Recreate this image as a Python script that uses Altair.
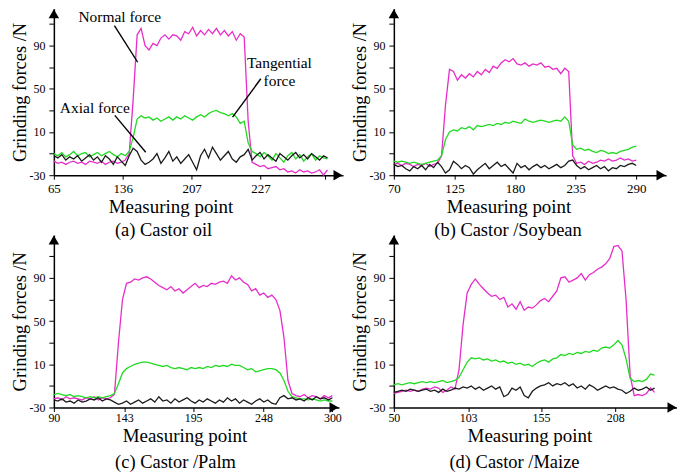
import altair as alt
import numpy as np
import pandas as pd

FONT = "Liberation Serif"
SERIES = ["Normal force", "Tangential force", "Axial force"]
COLORS = ["#E62DCB", "#22DA22", "#1C1C1C"]

Y_TICKS = [-30, -10, 10, 30, 50, 70, 90, 110]
Y_LABELS = ["-30", "", "10", "", "50", "", "90", ""]

# ---------------- (a) Castor oil ----------------
a_x_range = [65, 347]
a_xticks = [65, 136, 207, 278, 345]
a_xlabels = ["65", "136", "207", "227", ""]
a_normal = [-17, -19, -18, -20, -18, -17, -19, -18, -20, -17, -18, -19, -17, -20, -18, -17, -19, -18, -16,
            -10, 40, 100, 106, 90, 86, 92, 90, 97, 100, 96, 100, 99, 95, 103, 101, 107, 99, 104, 100, 105,
            101, 106, 100, 104, 99, 103, 95, 101, 98, 20, -18,
            -20, -22, -21, -24, -23, -22, -25, -24, -27, -26, -28, -25, -27, -26, -28, -27, -25, -30, -25]
a_tangential = [-10, -12, -9, -13, -11, -8, -12, -10, -9, -13, -11, -9, -12, -10, -8, -11, -13, -10, -12,
                -8, 5, 22, 25, 23, 24, 21, 23, 20, 22, 24, 21, 24, 22, 25, 23, 21, 24, 26, 24, 27,
                29, 30, 28, 27, 25, 27, 24, 18, 20, 0, -8,
                -10, -13, -9, -12, -16, -10, -14, -18, -12, -9, -15, -11, -17, -13, -10, -16, -12, -14, -15]
a_axial = [-12, -14, -11, -16, -13, -15, -12, -17, -14, -11,
           -16, -13, -18, -12, -15, -20, -13, -17, -21, -12,
           -5, -8, -16, -20, -18, -15, -10, -19, -14, -8,
           -17, -13, -19, -15, -11, -18, -25, -12, -6, -14,
           -4, -10, -16, -12, -8, -15, -18, -13, -11, -6,
           -16, -12, -9, -15, -11, -14, -17, -10, -13, -16,
           -12, -9, -14, -11, -15, -10, -13, -16, -12, -14]
a_caption = "(a) Castor oil"

# annotations for (a)
ann_text = ["Normal force", "Tangential", "force", "Axial force"]
ann_x = [132.9, 297.5, 297.5, 107.2]
ann_y = [116.8, 74.3, 56.8, 31.8]
lead_x1 = [127.4, 278.3, 127.8]
lead_y1 = [108.5, 59.3, 25.4]
lead_x2 = [151.4, 249.2, 159.7]
lead_y2 = [74.6, 23.8, -8.8]

# ---------------- (b) Castor /Soybean ----------------
b_x_range = [70, 290]
b_xticks = [70, 125, 180, 235, 290]
b_xlabels = ["70", "125", "180", "235", "290"]
b_normal = [-20, -19, -21, -19, -20, -22, -20, -21, -19, -22, -20, -19,
            -12, 35, 68, 66, 58, 63, 60, 64, 61, 66, 63, 68, 65, 71, 69, 74, 77, 75, 78, 73, 72, 74,
            71, 73, 72, 74, 70, 71, 68, 69, 64, 69, 66, -12, -19,
            -18, -20, -17, -19, -18, -16, -17, -15, -17, -16, -14, -16, -15, -17, -16]
b_tangential = [-17, -18, -17, -18, -19, -18, -19, -20, -19, -18, -17, -16,
                -12, 3, 10, 12, 11, 14, 13, 15, 12, 16, 15, 16, 17, 16, 18, 17, 19, 18, 20, 19, 18, 22,
                20, 19, 20, 21, 20, 19, 20, 21, 20, 24, 20, -2, -6,
                -5, -7, -6, -8, -9, -7, -8, -10, -9, -10, -8, -7, -6, -4, -3]
b_axial = [-20, -22, -21, -24, -26, -22, -24, -21, -25, -20,
           -23, -18, -22, -28, -25, -17, -20, -24, -21, -23,
           -29, -25, -22, -19, -24, -21, -18, -22, -20, -24,
           -28, -19, -23, -21, -25, -22, -20, -23, -21, -24,
           -22, -20, -23, -21, -17, -16, -21, -24, -22, -25,
           -23, -21, -24, -22, -26, -23, -24, -21, -22, -20,
           -19, -21]
b_caption = "(b) Castor /Soybean"

# ---------------- (c) Castor /Palm ----------------
c_x_range = [90, 300]
c_xticks = [90, 143, 195, 248, 300]
c_xlabels = ["90", "143", "195", "248", "300"]
c_normal = [-22, -21, -23, -20, -22, -21, -22, -23, -21, -22, -20, -23, -21, -22, -21, -18,
            30, 70, 85, 86, 89, 88, 90, 91, 89, 86, 83, 81, 79, 82, 78, 80, 76, 79, 82, 85, 81, 83,
            82, 85, 84, 86, 87, 85, 92, 88, 90, 86, 84, 78, 80, 74, 76, 72, 74, 70, 60, 35, -5, -17,
            -19, -20, -18, -21, -19, -20, -22, -19, -21, -19]
c_tangential = [-18, -17, -18, -19, -18, -20, -19, -20, -21, -20, -21, -20, -21, -20, -19, -17,
                -8, 2, 6, 8, 10, 11, 12, 12, 11, 10, 9, 8, 9, 7, 6, 7, 6, 5, 7, 6, 7, 6, 8, 7, 9, 8,
                9, 8, 10, 9, 9, 7, 5, 6, 3, 4, 5, 6, 6, 5, 2, -5, -15, -20,
                -21, -22, -22, -23, -22, -23, -24, -23, -24, -24]
c_axial = [-23, -24, -22, -25, -24, -26, -23, -25, -24, -22,
           -23, -21, -24, -22, -23, -25, -27, -26, -24, -27,
           -25, -23, -26, -24, -22, -25, -20, -24, -23, -26,
           -22, -25, -23, -21, -24, -26, -23, -25, -22, -24,
           -26, -23, -25, -21, -24, -22, -26, -23, -25, -27,
           -24, -22, -25, -23, -26, -27, -21, -19, -22, -21,
           -23, -22, -24, -21, -23, -20, -22, -21, -23, -21]
c_caption = "(c) Castor /Palm"

# ---------------- (d) Castor /Maize ----------------
d_x_range = [50, 236]
d_xticks = [50, 103, 155, 208]
d_xlabels = ["50", "103", "155", "208"]
d_normal = [-17, -16, -15, -14, -15, -14, -15, -13, -12, -13,
            -11, -12, -16, -14, -11, -13,
            5, 47, 76, 84, 89, 84, 80, 76, 73, 74,
            70, 72, 63, 66, 61, 68, 60, 63, 62, 65,
            69, 71, 68, 73, 78, 90, 91, 86, 88, 90,
            94, 88, 93, 95, 98, 100, 103, 108, 119, 120,
            115, 70, 0, -19, -18, -19, -17, -12, -16]
d_tangential = [-9, -8, -9, -8, -7, -8, -7, -6, -7, -6,
                -7, -6, -5, -7, -6, -5,
                -2, 5, 12, 16, 15, 16, 14, 15, 13, 14,
                12, 13, 11, 12, 10, 11, 9, 10, 8, 11,
                13, 14, 12, 15, 16, 19, 18, 20, 19, 21,
                20, 22, 21, 23, 22, 25, 26, 25, 28, 32,
                28, 15, -3, -6, -5, -6, -4, 1, 0]
d_axial = [-16, -15, -14, -15, -13, -14, -15, -14, -13, -15,
           -14, -16, -13, -15, -14, -12, -13, -11, -12, -10,
           -13, -11, -14, -12, -10, -13, -11, -20, -18, -12,
           -14, -11, -19, -21, -15, -12, -10, -9, -7, -10,
           -8, -9, -7, -10, -8, -12, -10, -13, -9, -11,
           -14, -12, -10, -12, -11, -13, -14, -17, -15, -12,
           -14, -13, -11, -14, -12]
d_caption = "(d) Castor /Maize"


def label_expr(values, labels):
    expr = "''"
    for v, l in reversed(list(zip(values, labels))):
        expr = f"datum.value == {v} ? '{l}' : ({expr})"
    return expr


def panel(normal, tang, axial, x_range, xdom, xticks, xlabels, ymax, w, h,
          caption, title_x, title_y, cap_dx, cap_offset, xlab_size, xlab_pad, annotate=False):
    frames = []
    for name, vals in zip(SERIES, [normal, tang, axial]):
        xs = np.linspace(x_range[0], x_range[1], len(vals))
        frames.append(pd.DataFrame({"point": xs, "force": vals, "series": name}))
    df = pd.concat(frames, ignore_index=True)

    xscale = alt.Scale(domain=xdom, nice=False, zero=False)
    yscale = alt.Scale(domain=[-30, ymax], nice=False, zero=False)
    xaxis = alt.Axis(values=xticks, labelExpr=label_expr(xticks, xlabels),
                     title="Measuring point", titleX=title_x, titleY=title_y,
                     titleBaseline="alphabetic", titleAlign="center",
                     titleFont=FONT, labelFont=FONT, titleFontWeight="normal",
                     labelFontSize=xlab_size, titleFontSize=19, tickSize=4, labelPadding=xlab_pad,
                     labelFlush=False, labelOverlap=False)
    yaxis = alt.Axis(values=Y_TICKS, labelExpr=label_expr(Y_TICKS, Y_LABELS),
                     title="Grinding forces /N", titleX=-28, titleBaseline="alphabetic",
                     titleAlign="center", titleFont=FONT, labelFont=FONT,
                     titleFontWeight="normal", labelFontSize=12, titleFontSize=18.5,
                     tickSize=5, labelPadding=4, labelFlush=False, labelOverlap=False)

    lines = alt.Chart(df).mark_line(strokeWidth=1.3).encode(
        x=alt.X("point:Q", scale=xscale, axis=xaxis),
        y=alt.Y("force:Q", scale=yscale, axis=yaxis),
        color=alt.Color("series:N", scale=alt.Scale(domain=SERIES, range=COLORS), legend=None),
    )

    one = pd.DataFrame({"k": [0]})
    yarrow = alt.Chart(one).mark_point(shape="triangle-up", filled=True, size=110,
                                       color="black", opacity=1).encode(
        x=alt.value(0), y=alt.value(5))
    xarrow = alt.Chart(one).mark_point(shape="triangle-right", filled=True, size=110,
                                       color="black", opacity=1).encode(
        x=alt.value(w - 5), y=alt.value(h))

    layers = [lines, yarrow, xarrow]
    if annotate:
        tdf = pd.DataFrame({"point": ann_x, "force": ann_y, "label": ann_text})
        ldf = pd.DataFrame({"point": lead_x1, "force": lead_y1,
                            "point2": lead_x2, "force2": lead_y2})
        layers.append(alt.Chart(ldf).mark_rule(color="black", strokeWidth=1.4).encode(
            x=alt.X("point:Q", scale=xscale, axis=xaxis),
            y=alt.Y("force:Q", scale=yscale, axis=yaxis),
            x2="point2:Q", y2="force2:Q"))
        layers.append(alt.Chart(tdf).mark_text(font=FONT, fontSize=15.5, color="black",
                                               align="center", baseline="middle").encode(
            x=alt.X("point:Q", scale=xscale, axis=xaxis),
            y=alt.Y("force:Q", scale=yscale, axis=yaxis),
            text="label:N"))

    return alt.layer(*layers).properties(
        width=w, height=h,
        title=alt.TitleParams(text=caption, orient="bottom", anchor="middle", frame="group",
                              dx=cap_dx, offset=cap_offset, font=FONT, fontSize=18.5,
                              fontWeight="normal", color="black"),
    )


pa = panel(a_normal, a_tangential, a_axial, a_x_range, [65, 363], a_xticks, a_xlabels,
           124.2, 290, 167, a_caption, 117, 37, -35, 5, 13, 3, annotate=True)
pb = panel(b_normal, b_tangential, b_axial, b_x_range, [70, 317], b_xticks, b_xlabels,
           124.2, 273, 167, b_caption, 115, 37, -22, 5, 13, 3)
pc = panel(c_normal, c_tangential, c_axial, c_x_range, [90, 305], c_xticks, c_xlabels,
           129.7, 286, 173, c_caption, 131, 34, -21, 8, 12, 1)
pd_ = panel(d_normal, d_tangential, d_axial, d_x_range, [50, 252], d_xticks, d_xlabels,
            129.7, 284, 173, d_caption, 136, 34, -21, 8, 12, 1)

chart = alt.concat(pa, pb, pc, pd_, columns=2, bounds="flush",
                   spacing=alt.RowColnumber(row=60, column=51)).properties(
    padding={"left": 3, "top": 0, "right": 0, "bottom": 0}
).configure_view(stroke=None).configure_axis(
    domainColor="black", domainWidth=1.5, tickColor="black", tickWidth=1,
    labelColor="black", titleColor="black", labelFont=FONT, titleFont=FONT,
    titleFontWeight="normal", grid=False
)

chart.save("out.html", embed_options={"renderer": "svg", "actions": False})
